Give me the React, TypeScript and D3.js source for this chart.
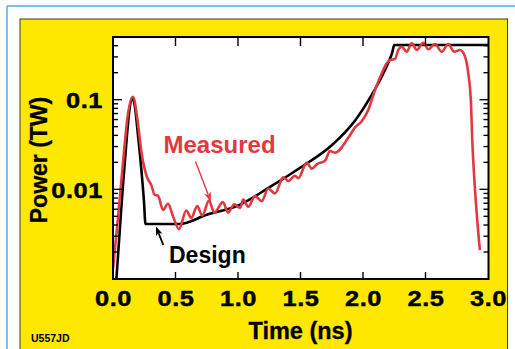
import React from 'react';
import * as d3 from 'd3';

// Measured laser pulse (time ns, power TW)
const measuredT = [0.0, 0.04, 0.088, 0.115, 0.16, 0.194, 0.227, 0.27, 0.306, 0.333, 0.36, 0.40, 0.44, 0.48, 0.528, 0.586, 0.626, 0.674, 0.714, 0.768, 0.81, 0.88, 0.92, 0.97, 1.016, 1.042, 1.082, 1.136, 1.19, 1.242, 1.296, 1.362, 1.402, 1.456, 1.482, 1.55, 1.59, 1.63, 1.696, 1.736, 1.776, 1.882, 1.936, 1.99, 2.042, 2.096, 2.15, 2.19, 2.216, 2.256, 2.282, 2.31, 2.35, 2.39, 2.43, 2.482, 2.522, 2.576, 2.63, 2.682, 2.73, 2.776, 2.816, 2.842, 2.864, 2.874, 2.896, 2.935];
const measuredV = [0.0013, 0.0048, 0.0263, 0.062, 0.108, 0.062, 0.0263, 0.0139, 0.0112, 0.0087, 0.0085, 0.0059, 0.0069, 0.005, 0.0036, 0.0058, 0.0048, 0.0065, 0.0051, 0.0075, 0.0055, 0.0072, 0.0055, 0.0068, 0.0062, 0.0077, 0.0064, 0.0084, 0.0074, 0.0102, 0.009, 0.0136, 0.0124, 0.0142, 0.0133, 0.0198, 0.017, 0.019, 0.0208, 0.0268, 0.0256, 0.0375, 0.049, 0.0575, 0.0768, 0.128, 0.197, 0.255, 0.277, 0.284, 0.358, 0.39, 0.343, 0.425, 0.358, 0.432, 0.365, 0.418, 0.343, 0.418, 0.343, 0.358, 0.302, 0.197, 0.0912, 0.0356, 0.01, 0.0021];

// Design pulse
const designT = [0.025, 0.061, 0.08, 0.112, 0.13, 0.152, 0.173, 0.2, 0.226, 0.248, 0.26, 0.53, 0.75, 1.0, 1.25, 1.5, 1.75, 1.94, 2.07, 2.15, 2.2, 2.235, 2.25, 3.0];
const designV = [0.0009, 0.0048, 0.0112, 0.0405, 0.074, 0.105, 0.087, 0.04, 0.0171, 0.0073, 0.0041, 0.0041, 0.0052, 0.0066, 0.0105, 0.0175, 0.031, 0.0594, 0.113, 0.18, 0.255, 0.34, 0.407, 0.407];

const xTicks = [0, 0.5, 1, 1.5, 2, 2.5, 3];
const xTickLabels = ['0.0', '0.5', '1.0', '1.5', '2.0', '2.5', '3.0'];
const yMajor = [0.01, 0.1];
const yTickLabels = ['0.01', '0.1'];

// annotation anchors in data coords
const measuredLabel = { t: 0.404, v: 0.0255, text: 'Measured' };
const designLabel = { t: 0.448, v: 0.00151, text: 'Design' };
const measuredArrow = { t0: 0.66, v0: 0.0205, t1: 0.784, v1: 0.00724 };
const designArrow = { t0: 0.402, v0: 0.0024, t1: 0.344, v1: 0.00384 };

const YELLOW = '#FFE800';
const RED = '#E2383F';
const FONT = '"Liberation Sans", Arial, Helvetica, sans-serif';

function Arrow({ x0, y0, x1, y1, color, len, wid, sw }: any) {
  const dx = x1 - x0, dy = y1 - y0;
  const d = Math.hypot(dx, dy);
  const ux = dx / d, uy = dy / d;
  const bx = x1 - ux * len, by = y1 - uy * len;
  const px = -uy * wid / 2, py = ux * wid / 2;
  return (
    <g>
      <line x1={x0} y1={y0} x2={bx + ux * 2} y2={by + uy * 2} stroke={color} strokeWidth={sw} />
      <polygon points={`${x1},${y1} ${bx + px},${by + py} ${bx + ux * 2.5},${by + uy * 2.5} ${bx - px},${by - py}`} fill={color} />
    </g>
  );
}

export default function App() {
  const W = 515, H = 349;
  const L = 113, R = 488.5, T = 37, B = 279;
  const x = d3.scaleLinear().domain([0, 3]).range([L, R - 0.5]);
  const y = d3.scaleLog().domain([0.001, 0.5]).range([B, T]);
  const line = d3.line<[number, number]>().x(d => x(d[0])).y(d => y(d[1])).curve(d3.curveMonotoneX);
  const measured = measuredT.map((t, i) => [t, measuredV[i]] as [number, number]);
  const design = designT.map((t, i) => [t, designV[i]] as [number, number]);
  const allY = y.ticks().filter(v => v > 0.0010001 && v < 0.4999);
  const minor = allY.filter(v => !yMajor.some(m => Math.abs(m - v) < 1e-9));
  const SX = 1.18;

  return (
    <svg width={W} height={H} style={{ position: 'absolute', left: 0, top: 0 }} fontFamily={FONT}>
      <rect x={0} y={0} width={W} height={H} fill="#fff" />
      <line x1={7} y1={6} x2={W} y2={6} stroke="#5AAEDF" strokeWidth={1.5} />
      <line x1={7} y1={6} x2={7} y2={H} stroke="#5AAEDF" strokeWidth={1.5} />
      <rect x={20} y={19} width={487.5} height={H} fill={YELLOW} stroke="#3a3a20" strokeWidth={1} />
      <defs>
        <clipPath id="plotclip"><rect x={L} y={T} width={R - L} height={B - T} /></clipPath>
      </defs>
      <rect x={L} y={T} width={R - L} height={B - T} fill="#fff" />
      <g clipPath="url(#plotclip)">
        <path d={line(design) || ''} fill="none" stroke="#000" strokeWidth={2.6} strokeLinejoin="round" />
        <path d={line(measured) || ''} fill="none" stroke={RED} strokeWidth={2.6} strokeLinejoin="round" />
      </g>
      {/* ticks */}
      <g stroke="#000" strokeWidth={1.4}>
        {xTicks.filter(t => t > 0 && t < 3).map(t => (
          <g key={'xt' + t}>
            <line x1={x(t)} x2={x(t)} y1={T} y2={T + 9} />
            <line x1={x(t)} x2={x(t)} y1={B} y2={B - 7} />
          </g>
        ))}
        {yMajor.map(v => (
          <g key={'ym' + v}>
            <line x1={L} x2={L + 9} y1={y(v)} y2={y(v)} />
            <line x1={R} x2={R - 9} y1={y(v)} y2={y(v)} />
          </g>
        ))}
        {minor.map(v => (
          <g key={'yn' + v}>
            <line x1={L} x2={L + 5} y1={y(v)} y2={y(v)} />
            <line x1={R} x2={R - 5} y1={y(v)} y2={y(v)} />
          </g>
        ))}
      </g>
      <rect x={L} y={T} width={R - L} height={B - T} fill="none" stroke="#000" strokeWidth={2} />
      {/* tick labels */}
      {xTicks.map((t, i) => (
        <g key={'xl' + t} transform={`translate(${x(t) + 0.5},305.5) scale(${SX},1)`}>
          <text x={0} y={0} textAnchor="middle" fontSize={21.5} fontWeight="bold" letterSpacing={0.5} stroke="#000" strokeWidth={0.45}>{xTickLabels[i]}</text>
        </g>
      ))}
      {yMajor.map((v, i) => (
        <g key={'yl' + v} transform={`translate(103,${y(v) + 8.2}) scale(${SX},1)`}>
          <text x={0} y={0} textAnchor="end" fontSize={21.5} fontWeight="bold" letterSpacing={0.5} stroke="#000" strokeWidth={0.45}>{yTickLabels[i]}</text>
        </g>
      ))}
      <text x={300.5} y={339} textAnchor="middle" fontSize={23.5} fontWeight="bold" stroke="#000" strokeWidth={0.3}>Time (ns)</text>
      <text transform="translate(47,160) rotate(-90)" textAnchor="middle" fontSize={23} fontWeight="bold" stroke="#000" strokeWidth={0.3}>Power (TW)</text>
      <text x={31} y={342.3} fontSize={10.5} fontWeight="bold">U557JD</text>
      {/* annotations */}
      <text x={x(measuredLabel.t)} y={y(measuredLabel.v)} fontSize={24} fontWeight="bold" fill={RED}>{measuredLabel.text}</text>
      <text x={x(designLabel.t)} y={y(designLabel.v)} fontSize={23} fontWeight="bold" fill="#000">{designLabel.text}</text>
      <Arrow x0={x(measuredArrow.t0)} y0={y(measuredArrow.v0)} x1={x(measuredArrow.t1)} y1={y(measuredArrow.v1)} color={RED} len={10} wid={7} sw={1.4} />
      <Arrow x0={x(designArrow.t0)} y0={y(designArrow.v0)} x1={x(designArrow.t1)} y1={y(designArrow.v1)} color="#000" len={9} wid={7} sw={1.8} />
    </svg>
  );
}
